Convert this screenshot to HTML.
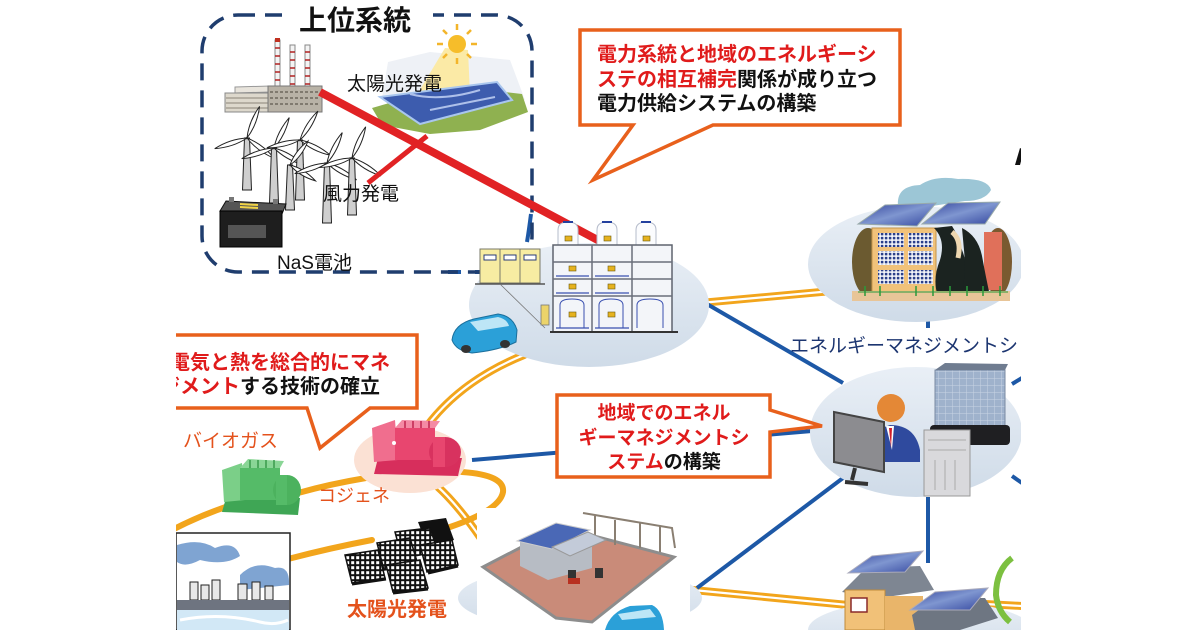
<!DOCTYPE html>
<html><head><meta charset="utf-8">
<style>
html,body{margin:0;padding:0;background:#fff;width:1200px;height:630px;overflow:hidden;}
svg{display:block;overflow:hidden;}
text{font-family:"Liberation Sans","Noto Sans CJK JP",sans-serif;}
</style></head>
<body>
<svg width="1200" height="630" viewBox="0 0 1200 630" xmlns="http://www.w3.org/2000/svg">
<defs>
  <clipPath id="frame"><rect x="0" y="0" width="1200" height="630"/></clipPath>
  <pattern id="pv" width="5" height="5" patternUnits="userSpaceOnUse">
    <rect width="5" height="5" fill="#111"/>
    <rect x="1.2" y="1.2" width="3" height="3" fill="#fff"/>
  </pattern>
  <pattern id="win" width="4" height="4" patternUnits="userSpaceOnUse">
    <rect width="4" height="4" fill="#fff"/>
    <rect x="0.8" y="0.8" width="2.6" height="2.6" fill="#2a3f8a"/>
  </pattern>
  <pattern id="bgrid" width="7" height="7" patternUnits="userSpaceOnUse">
    <rect width="7" height="7" fill="#9fb2cc"/>
    <path d="M0,0H7M0,0V7" stroke="#c8d4e4" stroke-width="1"/>
  </pattern>
  <linearGradient id="ell" x1="0" y1="0" x2="0" y2="1">
    <stop offset="0" stop-color="#e9eff6"/>
    <stop offset="1" stop-color="#cfdbe8"/>
  </linearGradient>
  <linearGradient id="pan" x1="0" y1="0" x2="1" y2="1">
    <stop offset="0" stop-color="#2f3f9a"/>
    <stop offset="0.5" stop-color="#7f96d0"/>
    <stop offset="1" stop-color="#34479f"/>
  </linearGradient>
</defs>
<g clip-path="url(#frame)">
<rect width="1200" height="630" fill="#fff"/>

<!-- ===== Orange lines ===== -->
<g fill="none" stroke-linecap="round">
  <g stroke="#f2a51c" stroke-width="8">
    <path d="M700,303 L832,291"/>
    <path d="M524,355 Q462,380 427,426"/>
    <path d="M437,486 Q458,505 482,540"/>
    <path d="M693,590 L848,605"/>
    <path d="M985,604 L1022,606"/>
  </g>
  <g stroke="#fff" stroke-width="2.2">
    <path d="M700,303 L832,291"/>
    <path d="M524,355 Q462,380 427,426"/>
    <path d="M437,486 Q458,505 482,540"/>
    <path d="M693,590 L848,605"/>
    <path d="M985,604 L1022,606"/>
  </g>
  <g stroke="#f2a51c" stroke-width="6">
    <path d="M462,472 Q505,475 503,492 Q500,510 450,527"/>
    <path d="M366,478 Q330,484 298,493"/>
    <path d="M238,503 Q205,513 172,530"/>
    <path d="M372,540 Q330,548 288,559"/>
    <path d="M490,629 L506,620"/>
  </g>
</g>

<!-- ===== Blue lines ===== -->
<g stroke="#1d58a6" stroke-width="4" fill="none">
  <path d="M700,300 L843,383"/>
  <path d="M843,478 L697,588"/>
  <path d="M928,497 L928,563"/>
  <path d="M472,460 L812,431"/>
  <path d="M928,318 L928,328"/>
  <path d="M1012,384 L1022,378"/>
  <path d="M1012,476 L1022,483"/>
  <path d="M448,272 L461,272 M475,272 L483,272"/>
  <path d="M531,214 Q529,230 527,242"/>
</g>

<!-- ===== Ellipses ===== -->
<ellipse cx="589" cy="305" rx="120" ry="62" fill="url(#ell)"/>
<ellipse cx="916" cy="264" rx="108" ry="58" fill="url(#ell)"/>
<ellipse cx="916" cy="432" rx="106" ry="65" fill="url(#ell)"/>
<ellipse cx="580" cy="598" rx="122" ry="32" fill="url(#ell)"/>
<ellipse cx="920" cy="630" rx="112" ry="30" fill="url(#ell)"/>
<ellipse cx="410" cy="460" rx="56" ry="33" fill="#fbe1d4"/>

<!-- ===== 上位系統 box ===== -->
<rect x="202" y="15" width="330" height="257" rx="36" ry="36" fill="none" stroke="#1f3d6e" stroke-width="3.5" stroke-dasharray="17 10"/>
<rect x="283" y="0" width="150" height="34" fill="#fff"/>
<text x="355" y="30" font-size="28" font-weight="bold" text-anchor="middle" fill="#111">上位系統</text>

<!-- power plant -->
<g>
  <g stroke="#888" stroke-width="1" fill="#f4f4f4">
    <rect x="275" y="40" width="5" height="62"/>
    <rect x="290" y="45" width="5" height="57"/>
    <rect x="305" y="45" width="5" height="57"/>
  </g>
  <g stroke="#b02020" stroke-width="1.5">
    <path d="M275,48h5M275,56h5M275,64h5M275,72h5M275,80h5M275,88h5"/>
    <path d="M290,52h5M290,60h5M290,68h5M290,76h5M290,84h5M290,92h5"/>
    <path d="M305,52h5M305,60h5M305,68h5M305,76h5M305,84h5M305,92h5"/>
  </g>
  <rect x="275" y="38" width="5" height="4" fill="#c03020"/>
  <polygon points="235,87 270,86 270,92 235,93" fill="#e8e4dc" stroke="#999" stroke-width="1"/>
  <rect x="225" y="93" width="48" height="19" fill="#ddd8cc" stroke="#888" stroke-width="1"/>
  <path d="M226,98h46M226,103h46M226,108h46" stroke="#8a8578" stroke-width="1"/>
  <rect x="268" y="86" width="54" height="26" fill="#b8b2a6" stroke="#777" stroke-width="1"/>
  <path d="M270,92h50M270,98h50M270,104h50" stroke="#6d675d" stroke-width="1.5" stroke-dasharray="3 2"/>
</g>

<!-- top solar -->
<g>
  <polygon points="388,62 430,52 510,60 525,100 470,105 382,98" fill="#eef1f6"/>
  <polygon points="445,48 468,50 470,95 415,98" fill="#fbeaa6"/>
  <circle cx="457" cy="44" r="9" fill="#f6bd2a"/>
  <g stroke="#f3b52a" stroke-width="2.5">
    <path d="M457,30v-6M457,58v6M443,44h-6M471,44h6M447,34l-4,-4M467,34l4,-4M447,54l-4,4M467,54l4,4"/>
  </g>
  <polygon points="372,108 400,100 470,88 522,94 528,112 480,130 430,134 382,125" fill="#8fb150"/>
  <polygon points="380,97 497,82 512,100 420,124" fill="#3d5cae" stroke="#a9c6ee" stroke-width="2"/>
  <path d="M410,94 Q440,102 480,90 M430,110 Q460,104 495,97" stroke="#aec0ea" stroke-width="2" fill="none"/>
</g>

<!-- wind turbines -->
<g stroke="#222" stroke-width="1">
  <g transform="translate(247,138)">
    <polygon points="-2.5,0 2.5,0 4.5,52 -4.5,52" fill="#cfcfcf"/>
    <path d="M0,0 Q5,-16 1,-34 Q-4,-16 0,0Z" fill="#fff" transform="rotate(20)"/>
    <path d="M0,0 Q5,-16 1,-34 Q-4,-16 0,0Z" fill="#fff" transform="rotate(125)"/>
    <path d="M0,0 Q5,-16 1,-34 Q-4,-16 0,0Z" fill="#fff" transform="rotate(250)"/>
  </g>
  <g transform="translate(274,148)">
    <polygon points="-2.5,0 2.5,0 4.5,55 -4.5,55" fill="#cfcfcf"/>
    <path d="M0,0 Q5,-16 1,-34 Q-4,-16 0,0Z" fill="#fff" transform="rotate(25)"/>
    <path d="M0,0 Q5,-16 1,-34 Q-4,-16 0,0Z" fill="#fff" transform="rotate(118)"/>
    <path d="M0,0 Q5,-16 1,-34 Q-4,-16 0,0Z" fill="#fff" transform="rotate(250)"/>
  </g>
  <g transform="translate(300,140)">
    <polygon points="-2.5,0 2.5,0 4.5,60 -4.5,60" fill="#cfcfcf"/>
    <path d="M0,0 Q5,-16 1,-34 Q-4,-16 0,0Z" fill="#fff" transform="rotate(30)"/>
    <path d="M0,0 Q5,-16 1,-34 Q-4,-16 0,0Z" fill="#fff" transform="rotate(115)"/>
    <path d="M0,0 Q5,-16 1,-34 Q-4,-16 0,0Z" fill="#fff" transform="rotate(255)"/>
  </g>
  <g transform="translate(290,165)">
    <polygon points="-2.5,0 2.5,0 4.5,45 -4.5,45" fill="#cfcfcf"/>
    <path d="M0,0 Q5,-14 1,-30 Q-4,-14 0,0Z" fill="#fff" transform="rotate(35)"/>
    <path d="M0,0 Q5,-14 1,-30 Q-4,-14 0,0Z" fill="#fff" transform="rotate(120)"/>
  </g>
  <g transform="translate(327,163)">
    <polygon points="-2.5,0 2.5,0 4.5,60 -4.5,60" fill="#cfcfcf"/>
    <path d="M0,0 Q5,-16 1,-34 Q-4,-16 0,0Z" fill="#fff" transform="rotate(25)"/>
    <path d="M0,0 Q5,-16 1,-34 Q-4,-16 0,0Z" fill="#fff" transform="rotate(118)"/>
    <path d="M0,0 Q5,-16 1,-34 Q-4,-16 0,0Z" fill="#fff" transform="rotate(250)"/>
  </g>
  <g transform="translate(352,158)">
    <polygon points="-2.5,0 2.5,0 4.5,57 -4.5,57" fill="#cfcfcf"/>
    <path d="M0,0 Q5,-16 1,-34 Q-4,-16 0,0Z" fill="#fff" transform="rotate(22)"/>
    <path d="M0,0 Q5,-16 1,-34 Q-4,-16 0,0Z" fill="#fff" transform="rotate(120)"/>
    <path d="M0,0 Q5,-16 1,-34 Q-4,-16 0,0Z" fill="#fff" transform="rotate(252)"/>
  </g>
</g>

<!-- battery -->
<g>
  <polygon points="226,201 286,204 282,214 220,211" fill="#555" stroke="#111" stroke-width="1"/>
  <rect x="220" y="211" width="62" height="36" fill="#1e1e1e" stroke="#000"/>
  <rect x="228" y="225" width="38" height="13" fill="#555"/>
  <path d="M240,204 l18,1 M240,207 l18,1" stroke="#f1d447" stroke-width="2"/>
  <rect x="229" y="197" width="5" height="5" fill="#777"/>
  <rect x="273" y="199" width="5" height="5" fill="#777"/>
</g>

<!-- red line -->
<path d="M320,92 L607,245" stroke="#e12224" stroke-width="8" fill="none"/>
<path d="M368,183 L427,136" stroke="#e12224" stroke-width="5" fill="none"/>

<text x="347" y="90" font-size="19" fill="#111">太陽光発電</text>
<text x="323" y="200" font-size="19" fill="#111">風力発電</text>
<text x="277" y="269" font-size="19" fill="#111">NaS電池</text>

<!-- ===== center storage ===== -->
<g>
  <rect x="480" y="249" width="60" height="34" fill="#f7eca2" stroke="#7a7a6a" stroke-width="1"/>
  <path d="M500,249v34M520,249v34" stroke="#7a7a6a" stroke-width="1"/>
  <g fill="#fff" stroke="#2a3b7a" stroke-width="1">
    <rect x="484" y="255" width="12" height="5"/><rect x="504" y="255" width="12" height="5"/><rect x="524" y="255" width="12" height="5"/>
  </g>
  <path d="M475,284h70" stroke="#555" stroke-width="1.5"/>
  <path d="M500,284 L545,328" stroke="#777" stroke-width="0.8"/>
  <rect x="541" y="305" width="8" height="20" fill="#ecd46a" stroke="#777" stroke-width="0.8"/>
  <g fill="#fbfcfe" stroke="#b6bccb" stroke-width="1">
    <path d="M558,245 V230 Q558,222 568,222 Q578,222 578,230 V245Z"/>
    <path d="M597,245 V230 Q597,222 607,222 Q617,222 617,230 V245Z"/>
    <path d="M636,245 V230 Q636,222 646,222 Q656,222 656,230 V245Z"/>
  </g>
  <path d="M563,222h10M602,222h10M641,222h10" stroke="#23409e" stroke-width="2"/>
  <rect x="553" y="245" width="119" height="87" fill="#f3f5f9" stroke="#5e636e" stroke-width="1.5"/>
  <path d="M553,262h119M553,279h119M553,296h119M592,245v87M632,245v87" stroke="#6a6f7a" stroke-width="1.5"/>
  <path d="M556,276h33M595,276h34M556,293h33M595,293h34M556,328h33M595,328h34" stroke="#3a50b0" stroke-width="1.3"/>
  <path d="M560,328 V305 Q560,299 572,299 Q584,299 584,305 V328 M599,328 V305 Q599,299 611,299 Q623,299 623,305 V328 M637,328 V305 Q637,299 650,299 Q663,299 663,305 V328" stroke="#3a50b0" stroke-width="1" fill="none"/>
  <g fill="#e6b21e" stroke="#6a5a10" stroke-width="0.6">
    <rect x="565" y="236" width="7" height="5"/><rect x="604" y="236" width="7" height="5"/><rect x="643" y="236" width="7" height="5"/>
    <rect x="569" y="266" width="7" height="5"/><rect x="608" y="266" width="7" height="5"/>
    <rect x="569" y="284" width="7" height="5"/><rect x="608" y="284" width="7" height="5"/>
    <rect x="569" y="312" width="7" height="5"/><rect x="608" y="312" width="7" height="5"/>
  </g>
  <path d="M550,332h128" stroke="#333" stroke-width="2"/>
  <path d="M452,340 Q454,324 474,319 L498,314 Q513,316 517,330 L516,342 Q500,350 472,353 Q456,351 452,340Z" fill="#2ba0d8" stroke="#1b6f9c" stroke-width="1"/>
  <path d="M470,322 L498,317 Q507,319 509,326 L478,331Z" fill="#bde6f6"/>
  <ellipse cx="466" cy="349" rx="5" ry="4" fill="#333"/>
  <ellipse cx="505" cy="344" rx="5" ry="4" fill="#333"/>
</g>

<!-- ===== school ===== -->
<g>
  <path d="M898,206 Q896,186 920,185 Q935,175 958,179 Q988,178 991,190 Q985,201 965,201 L932,206Z" fill="#9cc6d6"/>
  <ellipse cx="868" cy="262" rx="16" ry="34" fill="#6b5a30"/>
  <ellipse cx="998" cy="262" rx="14" ry="34" fill="#7a5a30"/>
  <rect x="872" y="228" width="64" height="66" fill="#f1c27a" stroke="#c4944a" stroke-width="1"/>
  <g fill="url(#win)">
    <rect x="878" y="233" width="26" height="14"/><rect x="908" y="233" width="25" height="14"/>
    <rect x="878" y="251" width="26" height="14"/><rect x="908" y="251" width="25" height="14"/>
    <rect x="878" y="270" width="26" height="14"/><rect x="908" y="270" width="25" height="14"/>
  </g>
  <rect x="984" y="232" width="18" height="58" fill="#e0705a"/>
  <path d="M934,228 Q946,240 940,260 Q932,280 938,296 L966,296 Q970,270 962,250 Q958,235 952,226Z" fill="#1b2320"/>
  <path d="M962,228 Q978,236 982,256 Q986,278 990,296 L962,296 Q966,270 964,250Z" fill="#1b2320"/>
  <path d="M952,232 Q962,240 958,258" stroke="#eed7b0" stroke-width="5" fill="none"/>
  <rect x="852" y="291" width="158" height="10" fill="#e8c598"/>
  <path d="M865,286v10M880,286v10M916,286v10M933,286v10M950,286v10M967,286v10M983,286v10M1000,286v10" stroke="#2a9a3a" stroke-width="1.5"/>
  <path d="M858,292h150" stroke="#2a9a3a" stroke-width="1"/>
  <polygon points="858,224 885,205 936,203 917,226" fill="url(#pan)" stroke="#9aa" stroke-width="1"/>
  <polygon points="922,224 948,203 1000,202 985,224" fill="url(#pan)" stroke="#9aa" stroke-width="1"/>
  <path d="M1015,165 L1020,148 L1024,150 L1020,165Z" fill="#111"/>
</g>

<!-- ===== person ellipse ===== -->
<g>
  <rect x="935" y="370" width="70" height="60" fill="url(#bgrid)" stroke="#7a8aa2" stroke-width="1"/>
  <polygon points="935,370 945,363 1008,364 1005,370" fill="#6f7c90"/>
  <rect x="930" y="425" width="80" height="20" rx="4" fill="#1f1f22"/>
  <rect x="924" y="430" width="46" height="66" fill="#d9d9dc" stroke="#999" stroke-width="1"/>
  <path d="M928,440h38M928,450h38M935,460v30M945,460v30M955,460v30" stroke="#aaa" stroke-width="1"/>
  <path d="M872,462 Q870,430 890,425 Q915,425 920,450 L920,462Z" fill="#2f4a9e"/>
  <path d="M886,426 L894,426 L892,450Z" fill="#fff"/>
  <path d="M889,428 L892,428 L891,448Z" fill="#d21f2a"/>
  <circle cx="891" cy="408" r="14" fill="#e48836"/>
  <polygon points="834,412 884,422 884,472 834,462" fill="#8c8c90" stroke="#444" stroke-width="2"/>
  <path d="M855,468 L852,480 M845,482 L868,484" stroke="#333" stroke-width="4"/>
</g>

<!-- ===== cogen ===== -->
<g>
  <polygon points="378,458 462,458 458,476 374,474" fill="#d72e5c"/>
  <polygon points="372,428 395,420 398,460 374,462" fill="#f06e8e"/>
  <rect x="395" y="428" width="40" height="32" fill="#e8466f"/>
  <polygon points="395,428 402,420 440,421 435,428" fill="#f48aa4"/>
  <path d="M405,421v7M413,421v7M421,421v7M429,421v7" stroke="#c0244f" stroke-width="1.5"/>
  <ellipse cx="445" cy="452" rx="16" ry="15" fill="#d8325f"/>
  <rect x="433" y="437" width="12" height="30" fill="#e8466f"/>
  <circle cx="394" cy="443" r="2" fill="#fff"/>
</g>
<!-- biogas -->
<g>
  <polygon points="226,498 300,498 298,515 222,512" fill="#3fa655"/>
  <polygon points="222,470 242,463 245,500 224,502" fill="#7bcf88"/>
  <rect x="240" y="468" width="40" height="32" fill="#55bb68"/>
  <polygon points="240,468 248,459 284,461 280,468" fill="#8ad696"/>
  <path d="M250,460v8M258,460v8M266,460v8M274,460v8" stroke="#3a9a4c" stroke-width="1.5"/>
  <ellipse cx="287" cy="490" rx="14" ry="15" fill="#4cb25e"/>
  <rect x="276" y="475" width="11" height="30" fill="#55bb68"/>
</g>

<!-- factory picture -->
<g>
  <rect x="176" y="533" width="114" height="97" fill="#fff" stroke="#222" stroke-width="1.5"/>
  <path d="M177,545 Q200,538 215,548 Q235,540 240,556 Q225,566 200,560 Q185,568 177,562Z" fill="#7fa4d2"/>
  <path d="M240,575 Q255,560 275,568 Q290,565 289,585 L240,590Z" fill="#7fa4d2"/>
  <g fill="#e8e8e8" stroke="#222" stroke-width="1">
    <rect x="190" y="582" width="8" height="18"/><rect x="201" y="585" width="8" height="15"/>
    <rect x="212" y="580" width="8" height="20"/><rect x="238" y="584" width="9" height="16"/>
    <rect x="252" y="582" width="8" height="18"/><rect x="265" y="586" width="8" height="14"/>
  </g>
  <rect x="177" y="600" width="112" height="10" fill="#6e7480"/>
  <rect x="177" y="610" width="112" height="20" fill="#d2e8f6"/>
  <path d="M180,620 Q220,612 260,622 Q275,626 288,620" stroke="#fff" stroke-width="3" fill="none"/>
</g>

<!-- solar farm black -->
<g>
  <polygon points="418,522 446,518 454,540 428,548" fill="#111"/>
  <g stroke="#111" stroke-width="1.5">
    <polygon points="395,532 430,528 438,552 402,558" fill="url(#pv)"/>
    <polygon points="420,545 452,540 458,565 427,572" fill="url(#pv)"/>
    <polygon points="377,543 410,538 418,565 384,570" fill="url(#pv)"/>
    <polygon points="345,555 378,550 385,578 352,583" fill="url(#pv)"/>
    <polygon points="386,565 420,560 428,588 393,592" fill="url(#pv)"/>
  </g>
  <path d="M352,584 L386,579 M393,593 L428,589 M428,573 L458,566" stroke="#111" stroke-width="3"/>
</g>

<!-- farm -->
<g>
  <rect x="477" y="508" width="213" height="122" fill="#fff"/>
  <polygon points="483,567 560,527 674,557 592,622 556,618" fill="#c98b79" stroke="#8d8d8d" stroke-width="3"/>
  <path d="M583,513 L672,528 L675,548 M595,515 V540 M615,520 V545 M640,523 V548 M660,526 V552" stroke="#8a7f72" stroke-width="2" fill="none"/>
  <polygon points="520,542 560,528 592,538 592,568 548,580 520,566" fill="#b7bcc4"/>
  <polygon points="517,541 556,523 590,530 552,549" fill="#4a68b6" stroke="#ccc" stroke-width="1"/>
  <polygon points="552,547 588,532 606,540 570,556" fill="#c3cbd9" stroke="#999" stroke-width="1"/>
  <rect x="568" y="570" width="8" height="10" fill="#333"/>
  <rect x="595" y="568" width="8" height="10" fill="#333"/>
  <rect x="568" y="578" width="12" height="6" fill="#b83020"/>
  <path d="M605,630 Q610,612 630,606 L652,605 Q663,610 664,630Z" fill="#2ba0d8"/>
  <path d="M618,614 L650,609 L656,617 L622,620Z" fill="#bde6f6"/>
</g>

<!-- house -->
<g>
  <polygon points="842,592 866,568 920,566 934,590 880,598" fill="#7e8692"/>
  <rect x="845" y="590" width="40" height="40" fill="#f1c178" stroke="#c08a3a" stroke-width="1"/>
  <rect x="851" y="598" width="16" height="14" fill="#fff" stroke="#8a2a2a" stroke-width="1.5"/>
  <rect x="885" y="596" width="38" height="34" fill="#e9b56a"/>
  <polygon points="912,615 935,598 985,598 998,618 960,630 915,630" fill="#6e7682"/>
  <polygon points="848,573 872,556 923,551 905,572" fill="url(#pan)" stroke="#aab" stroke-width="1"/>
  <polygon points="910,610 935,592 988,588 970,610" fill="url(#pan)" stroke="#aab" stroke-width="1"/>
  <path d="M1012,558 Q996,570 996,595 Q998,612 1010,622" stroke="#7cc040" stroke-width="6" fill="none"/>
</g>

<!-- ===== Callouts ===== -->
<path d="M580,30 H900 V125 H713 L593,180 L633,125 H580 Z" fill="#fff" stroke="#e8601c" stroke-width="3.5" stroke-linejoin="miter"/>
<g font-size="20" font-weight="bold">
  <text x="597" y="61" fill="#e01b1b">電力系統と地域のエネルギーシ</text>
  <text x="597" y="86"><tspan fill="#e01b1b">ステの相互補完</tspan><tspan fill="#111">関係が成り立つ</tspan></text>
  <text x="597" y="110" fill="#111">電力供給システムの構築</text>
</g>

<path d="M150,335 H417 V408 H370 L320,448 L307,408 H150 Z" fill="#fff" stroke="#e8601c" stroke-width="3.5"/>
<g font-size="20" font-weight="bold">
  <text x="170" y="369" fill="#e01b1b">電気と熱を総合的にマネ</text>
  <text x="160" y="393"><tspan fill="#e01b1b">ジメント</tspan><tspan fill="#111">する技術の確立</tspan></text>
</g>

<path d="M557,395 H770 V410 L822,426 L770,432 V477 H557 Z" fill="#fff" stroke="#e8601c" stroke-width="3.5"/>
<g font-size="19" font-weight="bold" text-anchor="middle">
  <text x="664" y="419" fill="#e01b1b">地域でのエネル</text>
  <text x="664" y="444" fill="#e01b1b">ギーマネジメントシ</text>
  <text x="664" y="468"><tspan fill="#e01b1b">ステム</tspan><tspan fill="#111">の構築</tspan></text>
</g>

<!-- labels -->
<text x="790" y="352" font-size="19" fill="#1c3570">エネルギーマネジメントシ</text>
<text x="183" y="447" font-size="19" fill="#e4521c">バイオガス</text>
<text x="318" y="502" font-size="18" fill="#e4521c">コジェネ</text>
<text x="347" y="616" font-size="20" font-weight="bold" fill="#e4521c">太陽光発電</text>

<!-- clip edges -->
<rect x="0" y="0" width="176" height="630" fill="#fff"/>
<rect x="1021" y="0" width="179" height="630" fill="#fff"/>
</g>
</svg>
</body></html>
